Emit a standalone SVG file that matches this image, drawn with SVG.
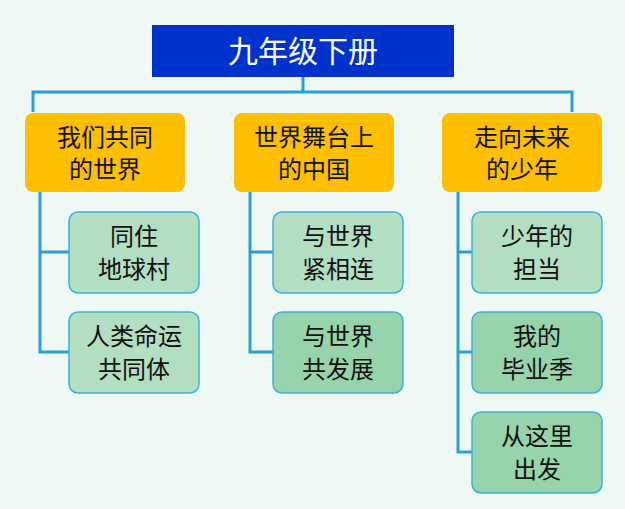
<svg xmlns="http://www.w3.org/2000/svg" width="625" height="509" viewBox="0 0 625 509">
<style>
.t{font-family:"Noto Sans CJK SC",sans-serif;font-size:24px;fill:#111;text-anchor:middle}
.o{fill:#fdbf00}
.g{fill:#b2dfc2;stroke:#3fb0dc;stroke-width:1.5}
.g2{fill:#97d3ab;stroke:#3fb0dc;stroke-width:1.5}
.c{fill:none;stroke:#2a9fd6;stroke-width:3}
</style>
<rect width="625" height="509" fill="#eef9f5"/>
<g id="connectors" class="c">
<path d="M33,112 V92 H572 V112 M303,77 V92 M40,192 V352 H69 M40,252 H69 M250,192 V352 H273 M250,252 H273 M458,192 V452 H472 M458,252 H472 M458,352 H472"/>
</g>
<g id="title"><rect x="152" y="25" width="302" height="52" fill="#0033cc"/><text x="303" y="62" class="t" style="fill:#fff;font-size:30px">九年级下册</text></g>
<g id="n1"><rect class="o" x="25" y="113" width="160" height="79" rx="8"/><text class="t" x="105" y="146">我们共同</text><text class="t" x="105" y="178">的世界</text></g>
<g id="n2"><rect class="o" x="234" y="113" width="160" height="79" rx="8"/><text class="t" x="314" y="146">世界舞台上</text><text class="t" x="314" y="178">的中国</text></g>
<g id="n3"><rect class="o" x="442" y="113" width="160" height="79" rx="8"/><text class="t" x="522" y="146">走向未来</text><text class="t" x="522" y="178">的少年</text></g>
<g id="n11"><rect class="g" x="69" y="212" width="130" height="81" rx="9"/><text class="t" x="134" y="245">同住</text><text class="t" x="134" y="278">地球村</text></g>
<g id="n12"><rect class="g" x="69" y="312" width="130" height="81" rx="9"/><text class="t" x="134" y="345">人类命运</text><text class="t" x="134" y="378">共同体</text></g>
<g id="n21"><rect class="g" x="273" y="212" width="130" height="81" rx="9"/><text class="t" x="338" y="245">与世界</text><text class="t" x="338" y="278">紧相连</text></g>
<g id="n22"><rect class="g2" x="273" y="312" width="130" height="81" rx="9"/><text class="t" x="338" y="345">与世界</text><text class="t" x="338" y="378">共发展</text></g>
<g id="n31"><rect class="g" x="472" y="212" width="130" height="81" rx="9"/><text class="t" x="537" y="245">少年的</text><text class="t" x="537" y="278">担当</text></g>
<g id="n32"><rect class="g2" x="472" y="312" width="130" height="81" rx="9"/><text class="t" x="537" y="345">我的</text><text class="t" x="537" y="378">毕业季</text></g>
<g id="n33"><rect class="g2" x="472" y="412" width="130" height="81" rx="9"/><text class="t" x="537" y="445">从这里</text><text class="t" x="537" y="478">出发</text></g>
</svg>
